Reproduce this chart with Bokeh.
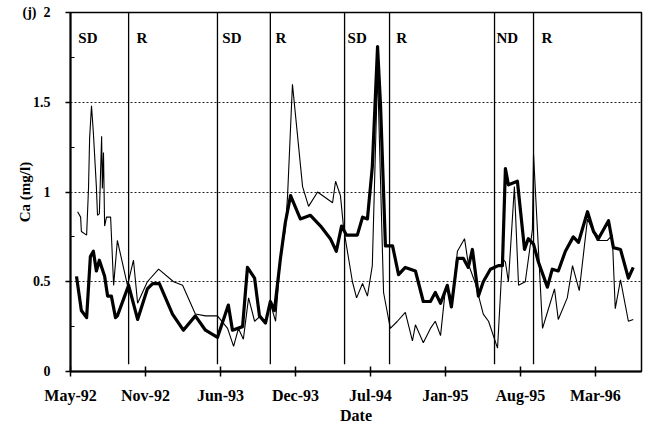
import pandas as pd
from bokeh.plotting import figure
from bokeh.models import Range1d, FixedTicker, DatetimeTickFormatter, ColumnDataSource
from bokeh.embed import file_html
from bokeh.resources import INLINE
from bokeh.core.properties import value

# ---------------- data (days counted from the origin date) ----------------
origin = "1992-05-01"

thick_days = [16, 29, 43, 53, 61, 69, 77, 91, 99, 109, 120, 125, 155, 179, 205, 219, 237,
              272, 301, 333, 360, 392, 421, 432, 459, 472, 491, 504, 520, 533, 544, 560,
              573, 587, 613, 640, 667, 693, 709, 723, 736, 765, 779, 792, 805, 819, 827,
              840, 859, 875, 893, 920, 941, 960, 973, 987, 1005, 1016, 1032, 1048, 1061,
              1072, 1088, 1101, 1120, 1141, 1152, 1160, 1168, 1192, 1211, 1221, 1235,
              1248, 1272, 1285, 1301, 1320, 1341, 1355, 1379, 1395, 1408, 1435, 1448,
              1467, 1488, 1501]
thick_ca = [0.53, 0.34, 0.30, 0.64, 0.67, 0.56, 0.62, 0.53, 0.42, 0.42, 0.30, 0.31, 0.48,
            0.29, 0.46, 0.49, 0.49, 0.32, 0.23, 0.31, 0.23, 0.19, 0.37, 0.23, 0.25, 0.58,
            0.52, 0.31, 0.27, 0.39, 0.34, 0.63, 0.83, 0.98, 0.85, 0.87, 0.81, 0.74, 0.67,
            0.81, 0.76, 0.76, 0.86, 0.85, 1.14, 1.81, 1.48, 0.70, 0.70, 0.54, 0.58, 0.56,
            0.39, 0.39, 0.44, 0.38, 0.48, 0.36, 0.63, 0.63, 0.58, 0.68, 0.42, 0.50, 0.57,
            0.59, 0.59, 1.13, 1.04, 1.06, 0.68, 0.74, 0.71, 0.61, 0.47, 0.57, 0.56, 0.67,
            0.75, 0.72, 0.89, 0.78, 0.74, 0.84, 0.69, 0.68, 0.52, 0.58]

thin_days = [19, 27, 29, 43, 48, 51, 56, 61, 69, 72, 77, 83, 85, 88, 91, 96, 107, 115, 125,
             152, 168, 179, 205, 235, 275, 299, 333, 360, 392, 419, 435, 448, 461, 475,
             491, 507, 520, 533, 547, 560, 573, 579, 592, 619, 635, 659, 699, 707, 720,
             728, 733, 752, 763, 779, 792, 805, 819, 835, 853, 872, 893, 912, 920, 941,
             960, 973, 987, 1000, 1019, 1032, 1051, 1061, 1080, 1101, 1115, 1139, 1152,
             1160, 1168, 1184, 1195, 1213, 1232, 1235, 1259, 1272, 1291, 1301, 1325,
             1339, 1357, 1379, 1405, 1432, 1445, 1453, 1467, 1488, 1501]
thin_ca = [0.89, 0.86, 0.78, 0.76, 1.02, 1.30, 1.48, 1.33, 1.03, 0.87, 0.88, 1.31, 1.02,
           1.22, 0.81, 0.86, 0.86, 0.48, 0.73, 0.48, 0.62, 0.38, 0.50, 0.57, 0.50, 0.48,
           0.32, 0.31, 0.31, 0.24, 0.14, 0.24, 0.18, 0.41, 0.28, 0.31, 0.27, 0.38, 0.28,
           0.64, 0.79, 0.98, 1.60, 1.03, 0.92, 1.00, 0.94, 1.06, 0.98, 0.81, 0.74, 0.50,
           0.41, 0.49, 0.42, 0.59, 1.67, 0.44, 0.24, 0.28, 0.33, 0.17, 0.26, 0.16, 0.24,
           0.28, 0.20, 0.46, 0.41, 0.67, 0.74, 0.60, 0.49, 0.32, 0.28, 0.13, 0.63, 0.61,
           0.50, 1.03, 0.48, 0.50, 0.79, 1.21, 0.24, 0.33, 0.46, 0.29, 0.41, 0.59, 0.45,
           0.85, 0.73, 0.73, 0.76, 0.35, 0.51, 0.28, 0.29]

divider_days = [155, 392, 533, 731, 851, 1131, 1235]
phase_labels = ["SD", "R", "SD", "R", "SD", "R", "ND", "R"]
phase_label_days = [21, 176, 405, 547, 739, 869, 1136, 1256]

x_tick_days = [0, 200, 400, 600, 800, 1000, 1200, 1400]
y_ticks = [0, 0.5, 1, 1.5, 2]
y_tick_labels = ["0", "0.5", "1", "1.5", "2"]
y_minor_ticks = [0.25, 0.75, 1.25, 1.75]
x_end_day = 1523
panel_letter = "(j)"

# ---------------- helpers ----------------
t0 = pd.Timestamp(origin)


def to_dt(days):
    return [t0 + pd.Timedelta(days=d) for d in days]


def to_ms(d):
    return (t0 + pd.Timedelta(days=d)).timestamp() * 1000.0


FONT = value("Liberation Serif")

p = figure(width=645, height=426, x_axis_type="datetime",
           output_backend="svg", toolbar_location=None,
           x_range=Range1d(to_ms(0), to_ms(x_end_day)), y_range=Range1d(0, 2),
           min_border_left=70, min_border_right=4, min_border_top=12, min_border_bottom=53)
p.background_fill_color = "white"
p.border_fill_color = "white"
p.outline_line_color = "black"
p.outline_line_width = 1.5

# dividers
p.segment(x0=to_dt(divider_days), y0=[0.04] * len(divider_days),
          x1=to_dt(divider_days), y1=[2] * len(divider_days),
          line_color="black", line_width=1.3)

# series
p.line(to_dt(thin_days), thin_ca, line_color="black", line_width=1.1)
p.line(to_dt(thick_days), thick_ca, line_color="black", line_width=3.2, line_join="round")

# phase labels
src = ColumnDataSource(dict(x=to_dt(phase_label_days), y=[1.86] * len(phase_labels), t=phase_labels))
p.text(x="x", y="y", text="t", source=src, text_font=FONT, text_font_style="bold",
       text_font_size="15px", text_baseline="alphabetic", text_align="left", text_color="black")

# axes
p.xaxis.ticker = FixedTicker(ticks=[to_ms(d) for d in x_tick_days])
fmt = "%b-%y"
p.xaxis.formatter = DatetimeTickFormatter(milliseconds=fmt, seconds=fmt, minsec=fmt, minutes=fmt,
                                          hourmin=fmt, hours=fmt, days=fmt, months=fmt, years=fmt)
p.xaxis.axis_label = "Date"
p.yaxis.axis_label = "Ca (mg/l)"
p.yaxis.ticker = FixedTicker(ticks=y_ticks, minor_ticks=y_minor_ticks)
overrides = {t: l for t, l in zip(y_ticks, y_tick_labels)}
overrides[y_ticks[-1]] = panel_letter + "\u00a0\u00a0" + y_tick_labels[-1]
p.yaxis.major_label_overrides = overrides

for ax in (p.xaxis[0], p.yaxis[0]):
    ax.axis_line_color = "black"
    ax.axis_line_width = 2
    ax.major_tick_line_color = "black"
    ax.major_tick_line_width = 1.5
    ax.major_label_text_font = "Liberation Serif"
    ax.major_label_text_font_style = "bold"
    ax.major_label_text_color = "black"
    ax.axis_label_text_font = "Liberation Serif"
    ax.axis_label_text_font_style = "bold"
    ax.axis_label_text_color = "black"

p.xaxis.major_tick_in = 5
p.xaxis.major_tick_out = 5
p.xaxis.minor_tick_line_color = None
p.xaxis.major_label_text_font_size = "16px"
p.xaxis.major_label_standoff = 10
p.xaxis.axis_label_text_font_size = "16px"
p.xaxis.axis_label_standoff = 0

p.yaxis.major_tick_in = 0
p.yaxis.major_tick_out = 5
p.yaxis.minor_tick_in = 4
p.yaxis.minor_tick_out = 0
p.yaxis.minor_tick_line_color = "black"
p.yaxis.major_label_text_font_size = "14px"
p.yaxis.major_label_standoff = 15
p.yaxis.axis_label_text_font_size = "15px"
p.yaxis.axis_label_standoff = -13

p.xgrid.grid_line_color = None
p.ygrid.ticker = FixedTicker(ticks=[0.5, 1, 1.5])
p.ygrid.grid_line_color = "#222222"
p.ygrid.grid_line_dash = "2 2"
p.ygrid.grid_line_width = 1

open("out.html", "w").write(file_html(p, INLINE))
